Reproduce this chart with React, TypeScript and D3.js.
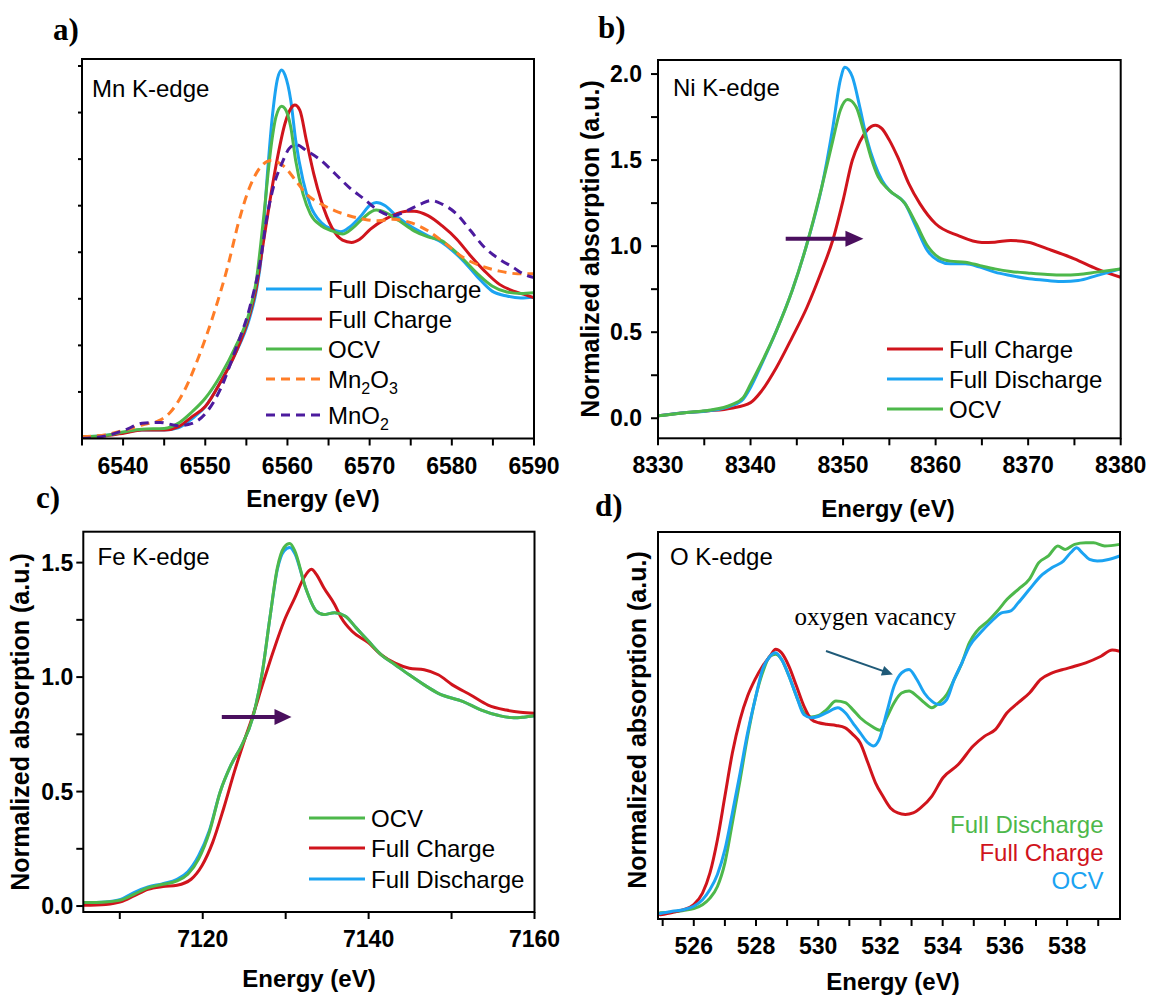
import React from 'react';
import * as d3 from 'd3';

type Pt = [number, number];

// ---------- a) Mn K-edge (energy eV, normalized absorption) ----------
const mnFullDischarge: Pt[] = [
  [6535.0, 0.007], [6538.0, 0.014], [6540.2, 0.026], [6542.3, 0.036], [6545.0, 0.036], [6546.7, 0.046],
  [6548.4, 0.086], [6550.0, 0.137], [6551.9, 0.245], [6553.6, 0.36], [6555.4, 0.518], [6556.2, 0.633],
  [6556.9, 0.806], [6557.5, 1.108], [6558.2, 1.396], [6558.8, 1.547], [6559.3, 1.583], [6559.7, 1.561],
  [6560.4, 1.453], [6561.0, 1.281], [6561.9, 1.108], [6562.8, 1.0], [6564.1, 0.928], [6565.4, 0.899],
  [6566.5, 0.888], [6567.5, 0.906], [6568.8, 0.95], [6570.1, 1.004], [6570.8, 1.014], [6571.9, 1.0],
  [6573.2, 0.957], [6574.9, 0.914], [6577.1, 0.871], [6578.8, 0.842], [6580.1, 0.806], [6581.4, 0.763],
  [6583.2, 0.691], [6584.9, 0.633], [6586.7, 0.612], [6588.4, 0.604], [6590.0, 0.607],
];
const mnFullCharge: Pt[] = [
  [6535.0, 0.007], [6538.0, 0.012], [6540.2, 0.024], [6542.3, 0.036], [6545.0, 0.036], [6546.7, 0.05],
  [6548.4, 0.094], [6550.0, 0.137], [6551.9, 0.245], [6553.6, 0.36], [6555.4, 0.532], [6556.2, 0.647],
  [6557.1, 0.849], [6558.0, 1.05], [6558.8, 1.209], [6559.7, 1.353], [6560.4, 1.417], [6560.9, 1.432],
  [6561.5, 1.41], [6562.3, 1.281], [6563.2, 1.137], [6564.1, 1.022], [6565.4, 0.906], [6566.7, 0.852],
  [6567.8, 0.842], [6568.8, 0.856], [6570.1, 0.899], [6571.9, 0.942], [6573.2, 0.964], [6574.5, 0.976],
  [6575.4, 0.976], [6577.1, 0.957], [6578.8, 0.914], [6580.6, 0.856], [6582.3, 0.784], [6584.0, 0.719],
  [6585.8, 0.662], [6587.5, 0.633], [6588.8, 0.619], [6590.0, 0.604],
];
const mnOcv: Pt[] = [
  [6535.0, 0.007], [6538.0, 0.014], [6540.2, 0.029], [6542.3, 0.04], [6545.0, 0.043], [6546.7, 0.065],
  [6548.4, 0.115], [6550.0, 0.173], [6551.9, 0.273], [6553.6, 0.388], [6555.4, 0.547], [6556.2, 0.676],
  [6557.1, 0.95], [6558.0, 1.252], [6558.6, 1.381], [6559.3, 1.427], [6559.7, 1.417], [6560.4, 1.338],
  [6561.0, 1.194], [6561.9, 1.05], [6562.8, 0.964], [6564.1, 0.914], [6565.4, 0.892], [6566.7, 0.878],
  [6568.0, 0.906], [6569.3, 0.95], [6570.8, 0.981], [6571.9, 0.971], [6573.6, 0.935], [6575.4, 0.892],
  [6577.1, 0.866], [6578.8, 0.849], [6580.1, 0.813], [6581.4, 0.77], [6583.2, 0.705], [6584.9, 0.655],
  [6586.7, 0.629], [6588.4, 0.623], [6590.0, 0.626],
];
const mnRefMn2O3: Pt[] = [
  [6535.0, 0.007], [6538.0, 0.017], [6540.2, 0.036], [6542.3, 0.058], [6544.5, 0.079], [6545.8, 0.115],
  [6547.6, 0.216], [6549.3, 0.36], [6551.0, 0.532], [6552.8, 0.748], [6554.1, 0.935], [6555.4, 1.079],
  [6556.7, 1.165], [6558.0, 1.194], [6558.8, 1.187], [6559.7, 1.165], [6561.0, 1.108], [6562.3, 1.05],
  [6564.1, 1.007], [6565.8, 0.978], [6567.5, 0.957], [6569.3, 0.942], [6571.0, 0.935], [6572.8, 0.942],
  [6574.9, 0.928], [6577.1, 0.892], [6579.3, 0.835], [6581.4, 0.777], [6583.6, 0.741], [6585.8, 0.719],
  [6588.0, 0.708], [6590.0, 0.708],
];
const mnRefMnO2: Pt[] = [
  [6535.0, 0.0], [6538.0, 0.012], [6540.2, 0.036], [6542.3, 0.065], [6544.5, 0.069], [6546.7, 0.055],
  [6548.4, 0.065], [6550.2, 0.115], [6551.9, 0.216], [6553.6, 0.374], [6555.4, 0.561], [6556.7, 0.763],
  [6557.5, 0.95], [6558.4, 1.094], [6559.3, 1.18], [6560.2, 1.245], [6561.0, 1.263], [6562.3, 1.237],
  [6564.1, 1.194], [6565.8, 1.137], [6567.5, 1.079], [6569.3, 1.029], [6571.0, 0.981], [6572.8, 0.957],
  [6574.5, 0.978], [6576.2, 1.007], [6577.5, 1.022], [6578.8, 1.007], [6580.6, 0.964], [6582.3, 0.892],
  [6584.0, 0.82], [6585.8, 0.77], [6587.5, 0.734], [6588.8, 0.705], [6590.0, 0.691],
];

// ---------- b) Ni K-edge ----------
const niFullCharge: Pt[] = [
  [8330.0, 0.014], [8333.1, 0.033], [8335.5, 0.043], [8337.9, 0.058], [8340.0, 0.091], [8341.2, 0.159],
  [8342.8, 0.295], [8344.5, 0.47], [8346.1, 0.645], [8347.7, 0.858], [8348.9, 1.037], [8350.0, 1.266],
  [8351.0, 1.499], [8351.8, 1.606], [8352.6, 1.674], [8353.5, 1.703], [8354.2, 1.683], [8355.0, 1.616],
  [8355.9, 1.518], [8357.1, 1.363], [8358.3, 1.247], [8360.0, 1.13], [8362.4, 1.062], [8365.0, 1.021],
  [8366.4, 1.023], [8368.1, 1.033], [8370.0, 1.023], [8372.1, 0.984], [8375.0, 0.926], [8377.4, 0.868],
  [8380.0, 0.819],
];
const niFullDischarge: Pt[] = [
  [8330.0, 0.014], [8333.1, 0.033], [8335.5, 0.043], [8337.9, 0.072], [8339.2, 0.111], [8340.0, 0.179],
  [8341.2, 0.315], [8342.8, 0.509], [8344.5, 0.742], [8346.1, 1.014], [8347.7, 1.344], [8348.9, 1.693],
  [8349.7, 1.965], [8350.2, 2.04], [8351.0, 1.984], [8351.8, 1.81], [8352.6, 1.616], [8353.4, 1.48],
  [8354.2, 1.383], [8355.0, 1.324], [8356.7, 1.247], [8357.9, 1.111], [8359.1, 0.975], [8360.3, 0.916],
  [8361.6, 0.897], [8363.2, 0.897], [8364.8, 0.878], [8366.4, 0.849], [8368.1, 0.829], [8370.1, 0.81],
  [8372.1, 0.8], [8373.8, 0.794], [8375.4, 0.8], [8377.4, 0.829], [8380.0, 0.868],
];
const niOcv: Pt[] = [
  [8330.0, 0.014], [8333.1, 0.033], [8335.5, 0.047], [8337.9, 0.078], [8339.2, 0.12], [8340.0, 0.198],
  [8341.2, 0.324], [8342.8, 0.509], [8344.5, 0.742], [8346.1, 1.014], [8347.7, 1.344], [8348.9, 1.616],
  [8349.7, 1.79], [8350.5, 1.852], [8351.4, 1.81], [8352.2, 1.674], [8353.0, 1.518], [8353.8, 1.402],
  [8355.0, 1.324], [8356.7, 1.247], [8357.9, 1.13], [8359.1, 1.004], [8360.3, 0.936], [8361.6, 0.913],
  [8363.2, 0.907], [8364.8, 0.887], [8366.4, 0.868], [8368.1, 0.853], [8370.1, 0.843], [8372.1, 0.835],
  [8373.8, 0.832], [8375.4, 0.835], [8377.4, 0.849], [8380.0, 0.868],
];

// ---------- c) Fe K-edge ----------
const feOcv: Pt[] = [
  [7105.6, 0.015], [7108.3, 0.018], [7110.1, 0.026], [7111.7, 0.051], [7113.4, 0.08], [7115.2, 0.095],
  [7116.9, 0.11], [7118.2, 0.139], [7119.5, 0.205], [7120.8, 0.322], [7122.1, 0.498], [7123.4, 0.615],
  [7124.7, 0.702], [7126.0, 0.82], [7127.2, 1.024], [7128.1, 1.259], [7129.0, 1.478], [7129.8, 1.566],
  [7130.5, 1.583], [7131.1, 1.551], [7132.4, 1.39], [7133.7, 1.288], [7134.6, 1.273], [7135.9, 1.281],
  [7137.2, 1.266], [7138.5, 1.215], [7140.0, 1.156], [7141.5, 1.098], [7143.2, 1.054], [7144.9, 1.01],
  [7146.7, 0.966], [7148.4, 0.929], [7151.4, 0.893], [7153.6, 0.856], [7155.7, 0.832], [7157.5, 0.822],
  [7158.7, 0.825], [7160.0, 0.831],
];
const feFullCharge: Pt[] = [
  [7105.6, 0.003], [7108.3, 0.007], [7110.1, 0.018], [7111.7, 0.044], [7113.4, 0.073], [7115.2, 0.085],
  [7116.9, 0.091], [7118.6, 0.117], [7119.9, 0.176], [7121.2, 0.278], [7122.5, 0.424], [7123.8, 0.585],
  [7125.1, 0.732], [7126.0, 0.827], [7127.2, 0.966], [7128.5, 1.112], [7129.8, 1.244], [7131.1, 1.346],
  [7132.2, 1.434], [7133.1, 1.471], [7133.7, 1.449], [7134.6, 1.39], [7135.9, 1.317], [7136.7, 1.259],
  [7138.0, 1.2], [7140.0, 1.149], [7141.5, 1.098], [7143.2, 1.061], [7144.9, 1.039], [7146.7, 1.032],
  [7148.4, 1.01], [7150.1, 0.966], [7152.3, 0.922], [7154.4, 0.878], [7156.6, 0.856], [7158.3, 0.846],
  [7160.0, 0.842],
];
const feFullDischarge: Pt[] = [
  [7105.6, 0.015], [7108.3, 0.018], [7110.1, 0.029], [7111.7, 0.059], [7113.4, 0.083], [7115.2, 0.098],
  [7116.9, 0.117], [7118.2, 0.15], [7119.5, 0.22], [7120.8, 0.33], [7122.1, 0.498], [7123.4, 0.615],
  [7124.7, 0.702], [7126.0, 0.82], [7127.2, 1.024], [7128.1, 1.259], [7129.0, 1.471], [7129.8, 1.551],
  [7130.5, 1.566], [7131.1, 1.54], [7132.4, 1.39], [7133.7, 1.288], [7134.6, 1.273], [7135.9, 1.281],
  [7137.2, 1.266], [7138.5, 1.215], [7140.0, 1.156], [7141.5, 1.098], [7143.2, 1.054], [7144.9, 1.01],
  [7146.7, 0.966], [7148.4, 0.929], [7151.4, 0.893], [7153.6, 0.856], [7155.7, 0.832], [7157.5, 0.822],
  [7158.7, 0.825], [7160.0, 0.831],
];

// ---------- d) O K-edge ----------
const oFullDischarge: Pt[] = [
  [524.92, 0.016], [525.31, 0.018], [525.67, 0.022], [526.0, 0.027], [526.28, 0.037], [526.52, 0.054],
  [526.76, 0.084], [527.0, 0.145], [527.24, 0.248], [527.49, 0.36], [527.73, 0.472], [527.97, 0.567],
  [528.21, 0.636], [528.45, 0.679], [528.63, 0.684], [528.82, 0.671], [529.06, 0.628], [529.3, 0.576],
  [529.54, 0.533], [529.78, 0.522], [530.02, 0.526], [530.27, 0.541], [530.57, 0.563], [530.87, 0.559],
  [531.11, 0.541], [531.35, 0.52], [531.72, 0.498], [531.98, 0.488], [532.2, 0.52], [532.44, 0.559],
  [532.68, 0.584], [532.92, 0.589], [533.17, 0.576], [533.41, 0.559], [533.65, 0.546], [533.89, 0.559],
  [534.13, 0.58], [534.37, 0.619], [534.62, 0.662], [534.86, 0.714], [535.1, 0.744], [535.46, 0.77],
  [535.76, 0.796], [536.07, 0.826], [536.43, 0.852], [536.79, 0.878], [537.09, 0.921], [537.4, 0.938],
  [537.7, 0.964], [537.94, 0.955], [538.24, 0.968], [538.6, 0.972], [538.85, 0.972], [539.21, 0.964],
  [539.69, 0.968],
];
const oFullCharge: Pt[] = [
  [524.92, 0.011], [525.31, 0.017], [525.67, 0.024], [526.0, 0.037], [526.28, 0.067], [526.52, 0.119],
  [526.76, 0.205], [527.0, 0.317], [527.24, 0.429], [527.49, 0.516], [527.73, 0.576], [527.97, 0.619],
  [528.21, 0.653], [528.45, 0.679], [528.63, 0.697], [528.82, 0.688], [529.06, 0.653], [529.3, 0.602],
  [529.54, 0.55], [529.78, 0.516], [530.02, 0.507], [530.27, 0.503], [530.57, 0.5], [530.87, 0.494],
  [531.11, 0.477], [531.35, 0.455], [531.6, 0.403], [531.84, 0.352], [532.08, 0.317], [532.32, 0.287],
  [532.56, 0.274], [532.8, 0.27], [533.05, 0.274], [533.29, 0.287], [533.65, 0.317], [534.01, 0.365],
  [534.5, 0.399], [534.98, 0.447], [535.34, 0.472], [535.7, 0.49], [536.07, 0.533], [536.43, 0.559],
  [536.79, 0.584], [537.15, 0.619], [537.52, 0.636], [537.88, 0.645], [538.24, 0.653], [538.6, 0.662],
  [539.09, 0.679], [539.45, 0.695], [539.69, 0.692],
];
const oOcv: Pt[] = [
  [524.92, 0.014], [525.31, 0.02], [525.67, 0.024], [526.0, 0.033], [526.28, 0.05], [526.52, 0.076],
  [526.76, 0.115], [527.0, 0.179], [527.24, 0.274], [527.49, 0.378], [527.73, 0.481], [527.97, 0.567],
  [528.21, 0.645], [528.45, 0.679], [528.63, 0.688], [528.82, 0.671], [529.06, 0.628], [529.3, 0.576],
  [529.54, 0.528], [529.78, 0.52], [530.02, 0.524], [530.27, 0.533], [530.63, 0.546], [530.87, 0.533],
  [531.11, 0.507], [531.35, 0.481], [531.6, 0.455], [531.78, 0.447], [531.96, 0.464], [532.2, 0.533],
  [532.44, 0.602], [532.68, 0.636], [532.92, 0.645], [533.17, 0.619], [533.41, 0.584], [533.65, 0.563],
  [533.89, 0.554], [534.13, 0.567], [534.37, 0.619], [534.62, 0.662], [534.86, 0.705], [535.22, 0.74],
  [535.58, 0.77], [535.89, 0.791], [536.19, 0.796], [536.43, 0.817], [536.79, 0.852], [537.15, 0.886],
  [537.52, 0.908], [537.88, 0.925], [538.12, 0.947], [538.3, 0.959], [538.48, 0.947], [538.72, 0.929],
  [538.97, 0.925], [539.33, 0.929], [539.69, 0.938],
];

// ---------- axis ticks ----------
const mnMajorTicks = [6540, 6550, 6560, 6570, 6580, 6590];
const mnMinorTicks = [6535, 6545, 6555, 6565, 6575, 6585];
const mnYTicks = [0.2, 0.4, 0.6, 0.8, 1.0, 1.2, 1.4, 1.6];
const niMajorTicks = [8330, 8340, 8350, 8360, 8370, 8380];
const niMinorTicks = [8335, 8345, 8355, 8365, 8375];
const niYMajor = [0, 0.5, 1.0, 1.5, 2.0];
const niYMinor = [0.25, 0.75, 1.25, 1.75];
const feMajorTicks = [7120, 7140, 7160];
const feMinorTicks = [7110, 7130, 7150];
const feYMajor = [0, 0.5, 1.0, 1.5];
const feYMinor = [0.25, 0.75, 1.25];
const oMajorTicks = [526, 528, 530, 532, 534, 536, 538];
const oMinorTicks = [525, 527, 529, 531, 533, 535, 537, 539];

const SANS = '"Liberation Sans", Arial, Helvetica, sans-serif';
const SERIF = '"Liberation Serif", "Times New Roman", serif';
const BLUE = '#1ba3f2';
const RED = '#d0141c';
const GREEN = '#4db84b';
const ORANGE = '#ff7d27';
const PURPLE = '#4c1b9e';
const ARROW = '#4a0f5e';
const TEAL = '#1f5a78';

type Scale = d3.ScaleLinear<number, number>;

interface Series {
  data: Pt[];
  color: string;
  dash?: string;
}

interface PanelProps {
  id: string;
  left: number;
  right: number;
  top: number;
  bottom: number;
  xDomain: [number, number];
  yDomain: [number, number];
  xMajor: number[];
  xMinor: number[];
  yMajor?: number[];
  yMinor?: number[];
  yLabelGap?: number;
  series: Series[];
  lineWidth?: number;
  extra?: (x: Scale, y: Scale) => React.ReactNode;
}

function Panel(p: PanelProps) {
  const x = d3.scaleLinear().domain(p.xDomain).range([p.left, p.right]);
  const y = d3.scaleLinear().domain(p.yDomain).range([p.bottom, p.top]);
  const line = d3
    .line<Pt>()
    .x((d) => x(d[0]))
    .y((d) => y(d[1]))
    .curve(d3.curveMonotoneX);
  const tick = 7;
  return (
    <g>
      <defs>
        <clipPath id={`${p.id}-clip`}>
          <rect x={p.left} y={p.top} width={p.right - p.left} height={p.bottom - p.top} />
        </clipPath>
      </defs>
      <g clipPath={`url(#${p.id}-clip)`}>
        {p.series.map((s, i) => (
          <path
            key={i}
            d={line(s.data) || ''}
            fill="none"
            stroke={s.color}
            strokeWidth={p.lineWidth ?? 3}
            strokeDasharray={s.dash}
            strokeLinejoin="round"
            strokeLinecap={s.dash ? 'butt' : 'round'}
          />
        ))}
      </g>
      {p.extra && p.extra(x, y)}
      <rect
        x={p.left}
        y={p.top}
        width={p.right - p.left}
        height={p.bottom - p.top}
        fill="none"
        stroke="#000"
        strokeWidth={2}
      />
      {[...p.xMajor, ...p.xMinor].map((t) => (
        <line key={`xt${t}`} x1={x(t)} x2={x(t)} y1={p.bottom} y2={p.bottom + tick} stroke="#000" strokeWidth={2} />
      ))}
      {p.xMajor.map((t) => (
        <text
          key={`xl${t}`}
          x={x(t)}
          y={p.bottom + 35}
          textAnchor="middle"
          fontFamily={SANS}
          fontWeight="bold"
          fontSize={23}
        >
          {t}
        </text>
      ))}
      {(p.yMinor || []).map((t) => (
        <line key={`ym${t}`} x1={p.left - (p.yMajor ? tick : 4)} x2={p.left} y1={y(t)} y2={y(t)} stroke="#000" strokeWidth={2} />
      ))}
      {(p.yMajor || []).map((t) => (
        <g key={`yM${t}`}>
          <line x1={p.left - tick} x2={p.left} y1={y(t)} y2={y(t)} stroke="#000" strokeWidth={2} />
          <text
            x={p.left - (p.yLabelGap ?? 12)}
            y={y(t) + 8}
            textAnchor="end"
            fontFamily={SANS}
            fontWeight="bold"
            fontSize={23}
          >
            {d3.format('.1f')(t)}
          </text>
        </g>
      ))}
    </g>
  );
}

function Arrow(props: {
  x1: number;
  y1: number;
  x2: number;
  y2: number;
  color: string;
  width: number;
  headLen: number;
  headHalf: number;
}) {
  const { x1, y1, x2, y2, color, width, headLen, headHalf } = props;
  const a = Math.atan2(y2 - y1, x2 - x1);
  const bx = x2 - headLen * Math.cos(a);
  const by = y2 - headLen * Math.sin(a);
  const px = -Math.sin(a) * headHalf;
  const py = Math.cos(a) * headHalf;
  return (
    <g>
      <line x1={x1} y1={y1} x2={bx + Math.cos(a)} y2={by + Math.sin(a)} stroke={color} strokeWidth={width} />
      <polygon points={`${x2},${y2} ${bx + px},${by + py} ${bx - px},${by - py}`} fill={color} />
    </g>
  );
}

function LegendRow(props: { x: number; y: number; color: string; dash?: string; children: React.ReactNode }) {
  return (
    <g>
      <line
        x1={props.x}
        x2={props.x + 56}
        y1={props.y}
        y2={props.y}
        stroke={props.color}
        strokeWidth={3}
        strokeDasharray={props.dash}
      />
      <text x={props.x + 62} y={props.y + 8.5} fontFamily={SANS} fontSize={24}>
        {props.children}
      </text>
    </g>
  );
}

const Sub = ({ children }: { children: React.ReactNode }) => (
  <tspan fontSize={16} dy={6}>
    {children}
  </tspan>
);

function AxisTitle(props: { x: number; y: number; rotate?: boolean; size?: number; children: React.ReactNode }) {
  return (
    <text
      x={0}
      y={0}
      transform={`translate(${props.x},${props.y})${props.rotate ? ' rotate(-90)' : ''}`}
      textAnchor="middle"
      dominantBaseline="central"
      fontFamily={SANS}
      fontWeight="bold"
      fontSize={props.size ?? 24}
    >
      {props.children}
    </text>
  );
}

function PanelLetter(props: { x: number; y: number; children: string }) {
  return (
    <text x={props.x} y={props.y} fontFamily={SERIF} fontWeight="bold" fontSize={31}>
      {props.children}
    </text>
  );
}

export default function App() {
  return (
    <svg
      width={1149}
      height={998}
      viewBox="0 0 1149 998"
      style={{ position: 'absolute', left: 0, top: 0, background: '#fff' }}
    >
      <rect width={1149} height={998} fill="#fff" />

      {/* a) Mn K-edge */}
      <Panel
        id="mn"
        left={82}
        right={534}
        top={59}
        bottom={438.5}
        xDomain={[6535, 6590]}
        yDomain={[0, 1.63]}
        xMajor={mnMajorTicks}
        xMinor={mnMinorTicks}
        yMinor={mnYTicks}
        series={[
          { data: mnFullDischarge, color: BLUE },
          { data: mnFullCharge, color: RED },
          { data: mnOcv, color: GREEN },
          { data: mnRefMn2O3, color: ORANGE, dash: '9,6' },
          { data: mnRefMnO2, color: PURPLE, dash: '9,6' },
        ]}
      />
      <text x={92} y={97} fontFamily={SANS} fontSize={24}>Mn K-edge</text>
      <LegendRow x={266} y={289} color={BLUE}>Full Discharge</LegendRow>
      <LegendRow x={266} y={319} color={RED}>Full Charge</LegendRow>
      <LegendRow x={266} y={349} color={GREEN}>OCV</LegendRow>
      <LegendRow x={266} y={379} color={ORANGE} dash="9,6">
        Mn<Sub>2</Sub>
        <tspan dy={-6}>O</tspan>
        <Sub>3</Sub>
      </LegendRow>
      <LegendRow x={266} y={415} color={PURPLE} dash="9,6">
        Mn<tspan>O</tspan>
        <Sub>2</Sub>
      </LegendRow>
      <AxisTitle x={313} y={498}>Energy (eV)</AxisTitle>
      <PanelLetter x={53} y={40}>a)</PanelLetter>

      {/* b) Ni K-edge */}
      <Panel
        id="ni"
        left={658}
        right={1120.7}
        top={60}
        bottom={438.3}
        xDomain={[8330, 8380]}
        yDomain={[-0.1165, 2.0816]}
        xMajor={niMajorTicks}
        xMinor={niMinorTicks}
        yMajor={niYMajor}
        yMinor={niYMinor}
        yLabelGap={16}
        series={[
          { data: niFullCharge, color: RED },
          { data: niFullDischarge, color: BLUE },
          { data: niOcv, color: GREEN },
        ]}
        extra={(x, y) => (
          <Arrow x1={x(8343.8)} y1={y(1.043)} x2={x(8352.2)} y2={y(1.043)} color={ARROW} width={4} headLen={18} headHalf={8} />
        )}
      />
      <text x={673} y={96} fontFamily={SANS} fontSize={24}>Ni K-edge</text>
      <LegendRow x={887} y={349} color={RED}>Full Charge</LegendRow>
      <LegendRow x={887} y={379} color={BLUE}>Full Discharge</LegendRow>
      <LegendRow x={887} y={409} color={GREEN}>OCV</LegendRow>
      <AxisTitle x={888} y={508}>Energy (eV)</AxisTitle>
      <AxisTitle x={590} y={249} rotate size={25}>Normalized absorption (a.u.)</AxisTitle>
      <PanelLetter x={598} y={38}>b)</PanelLetter>

      {/* c) Fe K-edge */}
      <Panel
        id="fe"
        left={83.3}
        right={534.5}
        top={531.7}
        bottom={912}
        xDomain={[7105.6, 7160]}
        yDomain={[-0.026, 1.635]}
        xMajor={feMajorTicks}
        xMinor={feMinorTicks}
        yMajor={feYMajor}
        yMinor={feYMinor}
        yLabelGap={10}
        series={[
          { data: feFullDischarge, color: BLUE },
          { data: feFullCharge, color: RED },
          { data: feOcv, color: GREEN },
        ]}
        extra={(x, y) => (
          <Arrow x1={x(7122.3)} y1={y(0.826)} x2={x(7130.7)} y2={y(0.826)} color={ARROW} width={4} headLen={17} headHalf={8} />
        )}
      />
      <text x={97.6} y={565} fontFamily={SANS} fontSize={24}>Fe K-edge</text>
      <LegendRow x={309} y={818} color={GREEN}>OCV</LegendRow>
      <LegendRow x={309} y={848} color={RED}>Full Charge</LegendRow>
      <LegendRow x={309} y={879} color={BLUE}>Full Discharge</LegendRow>
      <AxisTitle x={309} y={978}>Energy (eV)</AxisTitle>
      <AxisTitle x={20} y={722} rotate size={25}>Normalized absorption (a.u.)</AxisTitle>
      <PanelLetter x={36} y={508}>c)</PanelLetter>

      {/* d) O K-edge */}
      <Panel
        id="o"
        left={658}
        right={1120}
        top={532}
        bottom={919}
        xDomain={[524.85, 539.7]}
        yDomain={[0, 1]}
        xMajor={oMajorTicks}
        xMinor={oMinorTicks}
        series={[
          { data: oFullDischarge, color: GREEN },
          { data: oFullCharge, color: RED },
          { data: oOcv, color: BLUE },
        ]}
        extra={(x, y) => (
          <g>
            <Arrow x1={x(530.25)} y1={y(0.6925)} x2={x(532.4)} y2={y(0.632)} color={TEAL} width={2} headLen={11} headHalf={5} />
            <text x={x(529.24)} y={y(0.76)} fontFamily={SERIF} fontSize={25}>oxygen vacancy</text>
            <g fontFamily={SANS} fontSize={24} textAnchor="end">
              <text x={x(539.17)} y={833} fill={GREEN}>Full Discharge</text>
              <text x={x(539.17)} y={861} fill={RED}>Full Charge</text>
              <text x={x(539.17)} y={889} fill={BLUE}>OCV</text>
            </g>
          </g>
        )}
      />
      <text x={670} y={565} fontFamily={SANS} fontSize={24}>O K-edge</text>
      <AxisTitle x={893} y={981}>Energy (eV)</AxisTitle>
      <AxisTitle x={637} y={720} rotate size={25}>Normalized absorption (a.u.)</AxisTitle>
      <PanelLetter x={595} y={516}>d)</PanelLetter>
    </svg>
  );
}
